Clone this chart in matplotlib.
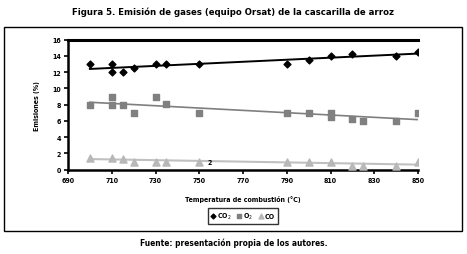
import matplotlib
matplotlib.use("Agg")
import matplotlib.pyplot as plt
import matplotlib.patches as mpatches
import numpy as np

plt.rcParams['font.family'] = ['DejaVu Sans']
plt.rcParams['font.stretch'] = 'condensed'

# Data
temp_co2 = [700, 710, 710, 715, 720, 730, 735, 750, 790, 800, 810, 820, 840, 850]
co2 = [13, 13, 12, 12, 12.5, 13, 13, 13, 13, 13.5, 14, 14.2, 14, 14.5]
temp_o2 = [700, 710, 710, 715, 720, 730, 735, 750, 790, 800, 810, 810, 820, 825, 840, 850]
o2 = [8, 9, 8, 8, 7, 9, 8.1, 7, 7, 7, 7, 6.5, 6.3, 6, 6, 7]
temp_co = [700, 710, 715, 720, 730, 735, 750, 790, 800, 810, 820, 825, 840, 850]
co = [1.5, 1.5, 1.3, 1.0, 1.0, 1.0, 1.0, 1.0, 1.0, 1.0, 0.5, 0.5, 0.5, 1.0]
xticks = [690, 710, 730, 750, 770, 790, 810, 830, 850]
yticks = [0, 2, 4, 6, 8, 10, 12, 14, 16]

fig = plt.figure(figsize=(4.67, 2.55), dpi=100)
fig.patch.set_facecolor('white')

# outer frame
fig.add_artist(mpatches.Rectangle((4/467, 1 - 232/255), 458/467, 204/255,
                                  transform=fig.transFigure, fill=False,
                                  edgecolor='black', linewidth=1.0))

ax = fig.add_axes([68/467, 1 - 170.7/255, 350/467, 130/255])

def trend(x, y, color, lw):
    p = np.polyfit(x, y, 1)
    xs = np.array([700, 850])
    ax.plot(xs, np.polyval(p, xs), color=color, lw=lw, zorder=2)

trend(temp_co2, co2, 'black', 1.4)
trend(temp_o2, o2, '#7f7f7f', 1.2)
trend(temp_co, co, '#c0c0c0', 1.5)

ax.scatter(temp_co2, co2, marker='D', s=12, color='black', zorder=3, label='CO$_2$')
ax.scatter(temp_o2, o2, marker='s', s=24, color='#808080', zorder=3, label='O$_2$')
ax.scatter(temp_co, co, marker='^', s=26, color='#b8b8b8', zorder=3, label='CO')
ax.text(755, 1.0, '2', fontsize=5, fontweight='bold', ha='center', va='center')

ax.set_xlim(690, 850)
ax.set_ylim(0, 16)
ax.set_xticks(xticks)
ax.set_yticks(yticks)
ax.tick_params(labelsize=5, length=3, width=1.2, pad=2)
for lab in ax.get_xticklabels() + ax.get_yticklabels():
    lab.set_fontweight('bold')
ax.axhline(16, color='black', lw=2.2, zorder=1, clip_on=False)
ax.spines['top'].set_visible(False)
ax.spines['right'].set_visible(False)
ax.spines['left'].set_linewidth(1.8)
ax.spines['bottom'].set_linewidth(1.8)

ax.set_xlabel('Temperatura de combustión (°C)', fontsize=5, fontweight='bold', labelpad=9)
ax.set_ylabel('Emisiones (%)', fontsize=5, fontweight='bold', labelpad=9)

leg = ax.legend(loc='upper center', bbox_to_anchor=(0.5, -0.27), ncol=3, fontsize=5,
                frameon=True, fancybox=False, edgecolor='black', handlelength=0.6,
                handletextpad=0.3, columnspacing=0.8, borderpad=0.4, markerscale=0.7)
leg.get_frame().set_linewidth(1.0)
for t in leg.get_texts():
    t.set_fontweight('bold')

fig.text(0.5, 1 - 12/255, 'Figura 5. Emisión de gases (equipo Orsat) de la cascarilla de arroz',
         ha='center', va='center', fontsize=6.8, fontweight='bold')
fig.text(0.5, 1 - 243/255, 'Fuente: presentación propia de los autores.',
         ha='center', va='center', fontsize=6, fontweight='bold')

fig.savefig('out.png', dpi=100, facecolor='white')
